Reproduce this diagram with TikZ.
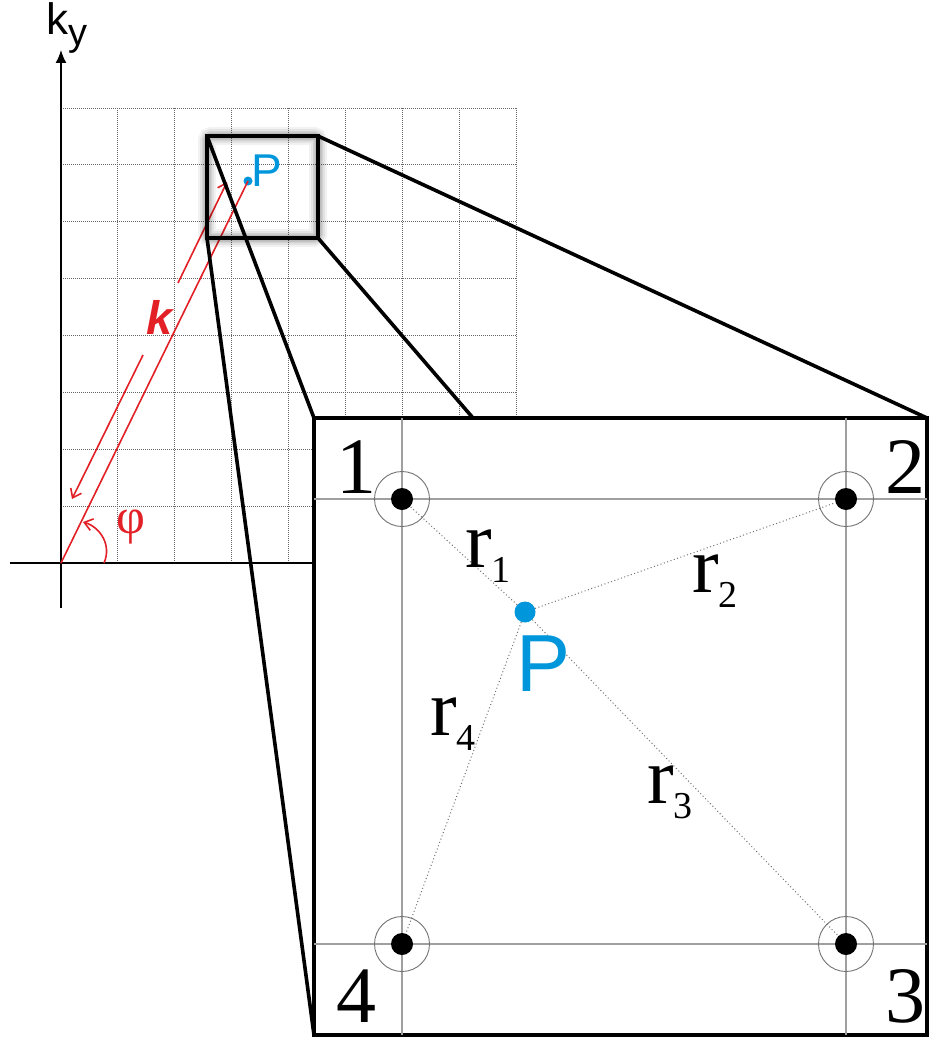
\documentclass[tikz,border=0pt]{standalone}
\usepackage{fontspec}
\setmainfont{Liberation Serif}
\newfontfamily\sansf{Liberation Sans}
\usetikzlibrary{arrows.meta}
\definecolor{pblue}{RGB}{0,150,219}
\definecolor{kred}{RGB}{226,32,38}
\newcommand\myrlab[1]{r\raisebox{-15pt}{\fontsize{38}{38}\selectfont #1}}
\begin{document}
\begin{tikzpicture}[x=1pt,y=-1pt,
 gridline/.style={black!60, line width=0.9pt, dash pattern=on 1pt off 1pt},
 axisline/.style={black, line width=1.6pt},
 redline/.style={kred, line width=1.6pt},
 projline/.style={black, line width=3.6pt},
 boxframe/.style={black, line width=4pt, line join=miter},
 innerline/.style={gray!75, line width=1.2pt},
 ring/.style={circle, draw=black!55, line width=0.9pt, minimum size=55pt, inner sep=0pt},
 blackdot/.style={circle, fill=black, minimum size=22pt, inner sep=0pt},
 plink/.style={black!55, line width=1pt, dash pattern=on 1pt off 2.5pt},
 digit/.style={inner sep=0pt, font=\fontsize{80}{80}\selectfont},
 rlabel/.style={inner sep=0pt, anchor=base west, font=\fontsize{80}{80}\selectfont},
 barb/.style={-{Straight Barb[length=8pt,width=12pt]}}
]
\fill[white] (0,0) rectangle (929,1041);
\useasboundingbox (0,0) rectangle (929,1041);

% grid
\foreach \i in {1,...,8}
  \draw[gridline] ({61+56.875*\i},108) -- ({61+56.875*\i},563);
\foreach \j in {0,...,7}
  \draw[gridline] (61,{108+56.875*\j}) -- (516,{108+56.875*\j});

% axes
\coordinate (yBot) at (61,608);
\coordinate (yTop) at (61,50);
\coordinate (xL) at (10,563);
\coordinate (xR) at (316,563);
\draw[axisline,-{Latex[length=13pt,width=11pt]}] (yBot) -- (yTop);
\draw[axisline] (xL) -- (xR);
\node[inner sep=0pt, anchor=base west, font=\sansf\fontsize{44}{44}\selectfont] (ky) at (46,35) {k\raisebox{-10pt}{\fontsize{38}{38}\selectfont y}};

% small P and k vector
\coordinate (O) at (61,563);
\node[circle, fill=pblue, minimum size=9pt, inner sep=0pt] (sP) at (248,181) {};
\node[inner sep=0pt, anchor=base west, text=pblue, font=\sansf\fontsize{46}{46}\selectfont] (sPlab) at (251,186) {P};
\draw[redline] (O) -- (sP.center);
\coordinate (kA) at (72,499);
\coordinate (kB) at (143,355);
\coordinate (kC) at (178,283);
\coordinate (kD) at (227,182);
\draw[redline,barb] (kB) -- (kA);
\draw[redline,barb] (kC) -- (kD);
\node[inner sep=0pt, text=kred, font=\sansf\bfseries\itshape\fontsize{47}{47}\selectfont] (klab) at (160,317) {k};
\coordinate (phiS) at (104,563);
\coordinate (phiE) at (83,522);
\draw[redline,barb] (phiS) .. controls (112,545) and (100,527) .. (phiE);
\node[inner sep=0pt, text=kred, font=\fontsize{50}{50}\selectfont] (philab) at (131,527) {φ};

% small box
\coordinate (sTL) at (207,136);
\coordinate (sTR) at (318,136);
\coordinate (sBL) at (207,238);
\coordinate (sBR) at (318,238);
\foreach \w/\o in {18/0.05, 14/0.06, 10/0.08, 7/0.1}
  \draw[line width=\w pt, black, opacity=\o, rounded corners=4pt] (sTL) rectangle (sBR);
\draw[boxframe] (sTL) rectangle (sBR);

% big box corners
\coordinate (bTL) at (314,418);
\coordinate (bTR) at (927,418);
\coordinate (bBL) at (314,1035);
\coordinate (bBR) at (927,1035);
\coordinate (bHid) at (473,418);
\draw[projline] (sTL) -- (bTL);
\draw[projline] (sTR) -- (bTR);
\draw[projline] (sBL) -- (bBL);
\draw[projline] (sBR) -- (bHid);
\draw[boxframe, fill=white] (bTL) rectangle (bBR);

% inner grid lines
\coordinate (q1) at (402,499);
\coordinate (q3) at (846,944);
\draw[innerline] (bTL -| q1) -- (bBL -| q1);
\draw[innerline] (bTL -| q3) -- (bBL -| q3);
\draw[innerline] (bTL |- q1) -- (bTR |- q1);
\draw[innerline] (bTL |- q3) -- (bTR |- q3);

% points
\foreach \n/\x/\y in {1/402/499, 2/846/499, 3/846/944, 4/402/944}{
  \node[ring] (c\n) at (\x,\y) {};
  \node[blackdot] (p\n) at (\x,\y) {};
}
\node[circle, fill=pblue, minimum size=21pt, inner sep=0pt] (bP) at (525,612) {};
\foreach \n in {1,...,4}
  \draw[plink] (bP) -- (p\n);
\node[inner sep=0pt, anchor=base west, text=pblue, font=\sansf\fontsize{81}{81}\selectfont] (bPlab) at (516,691) {P};

% labels
\node[digit] (n1) at (356,467) {1};
\node[digit] (n2) at (905,467) {2};
\node[digit] (n3) at (905,996) {3};
\node[digit] (n4) at (356,996) {4};
\node[rlabel] (r1) at (465,567) {\myrlab{1}};
\node[rlabel] (r2) at (692,592) {\myrlab{2}};
\node[rlabel] (r3) at (647,803) {\myrlab{3}};
\node[rlabel] (r4) at (430,735) {\myrlab{4}};
\end{tikzpicture}
\end{document}
